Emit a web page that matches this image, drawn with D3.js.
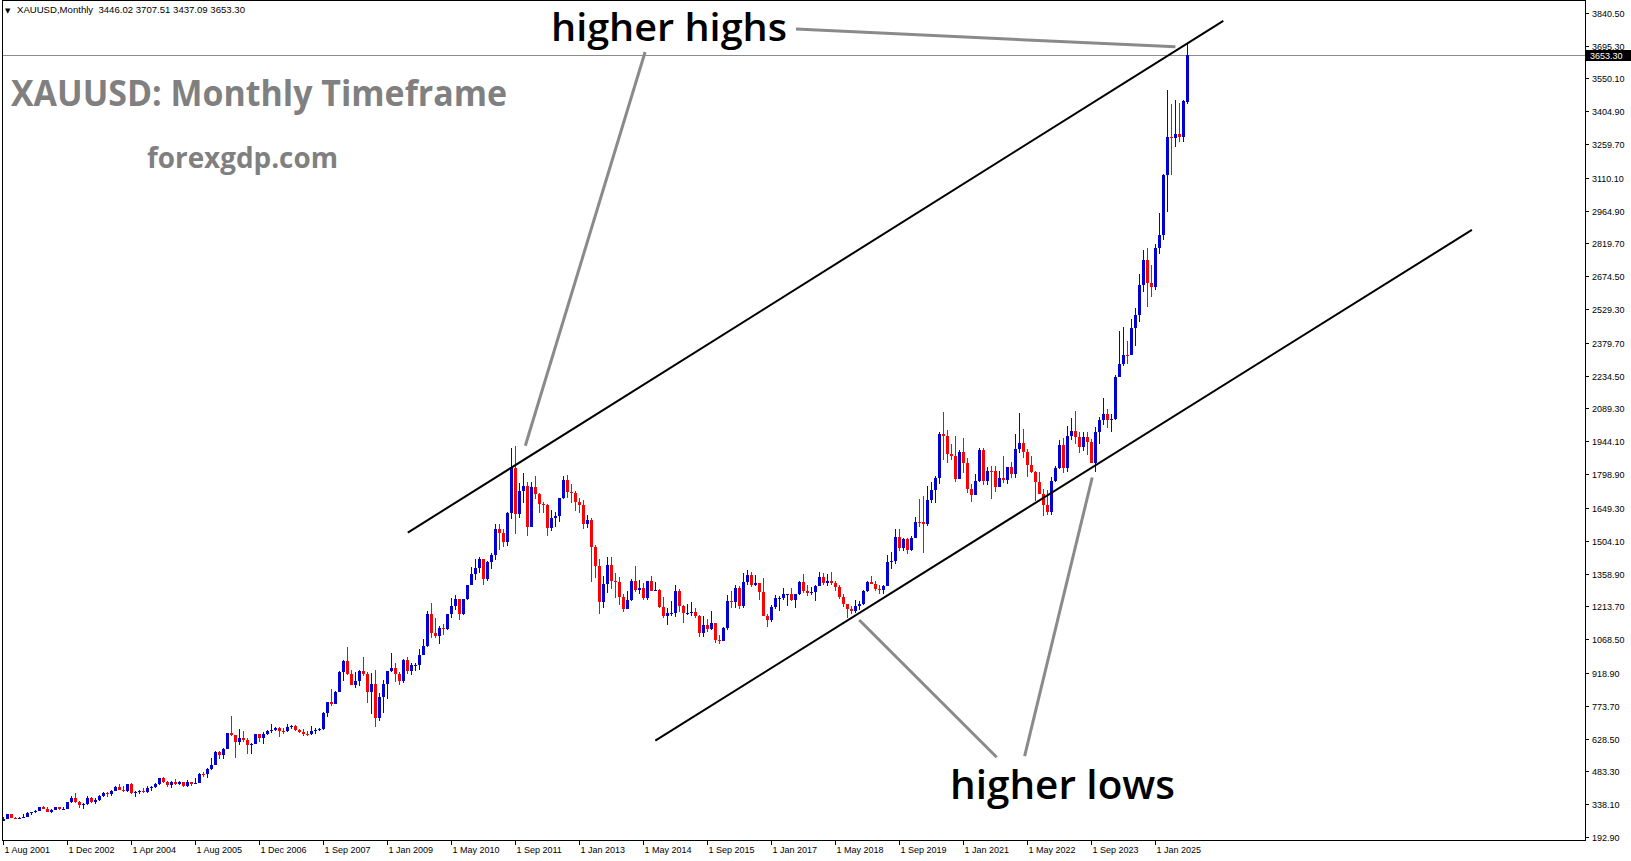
<!DOCTYPE html>
<html><head><meta charset="utf-8">
<script src="https://cdn.jsdelivr.net/npm/d3@7"></script>
<style>
html,body{margin:0;padding:0;background:#fff;overflow:hidden}
svg{display:block}
</style></head><body>
<svg id="chart" width="1631" height="861"></svg>
<script>
// ---------- DATA ----------
const headerSymbol = "XAUUSD,Monthly";
const headerQuote = ["3446.02", "3707.51", "3437.09", "3653.30"];
const lastPrice = 3653.30;

const timeLabels = ["1 Aug 2001","1 Dec 2002","1 Apr 2004","1 Aug 2005","1 Dec 2006","1 Sep 2007","1 Jan 2009","1 May 2010","1 Sep 2011","1 Jan 2013","1 May 2014","1 Sep 2015","1 Jan 2017","1 May 2018","1 Sep 2019","1 Jan 2021","1 May 2022","1 Sep 2023","1 Jan 2025"];
const timeLabelBars = [0,16,32,48,64,80,96,112,128,144,160,176,192,208,224,240,256,272,288];

const priceTicks = [3840.50,3695.30,3550.10,3404.90,3259.70,3110.10,2964.90,2819.70,2674.50,2529.30,2379.70,2234.50,2089.30,1944.10,1798.90,1649.30,1504.10,1358.90,1213.70,1068.50,918.90,773.70,628.50,483.30,338.10,192.90];

// monthly bars: [open, high, low, close]
const bars2001_2006 = [
 [265.6,280,265,273.2],[273.2,293.5,270.5,293.1],[293.1,293.2,276,278.9],[278.9,281,271.5,275.5],[275.5,281,271.5,278.9],
 [278.9,293,277.5,282.3],[282.3,305,281,296.9],[296.9,304.5,290,302.5],[302.5,311,299.5,308.3],[308.3,327.5,307,326.6],[326.6,330,315,318.5],[318.5,325,301.5,304.7],[304.7,316,300,312.8],[312.8,326,311.5,323.7],[323.7,325,311.5,316.9],[316.9,326.3,313,318.5],[318.5,349.5,316,347.2],
 [347.2,372.5,342,367.5],[367.5,388,344.5,347.5],[347.5,353,322.5,334.9],[334.9,341.5,319,338.7],[338.7,376,336.5,364.5],[364.5,372,343,346.5],[346.5,366,340,354.5],[354.5,379,350.5,375.6],[375.6,392,369,388.4],[388.4,394,369.5,384.5],[384.5,400,375,398.4],[398.4,417.5,395,416.3],
 [416.3,427.5,399,402.5],[402.5,419,390,396.5],[396.5,429.5,392.5,427.3],[427.3,432,384.5,388],[388,395,371.5,394],[394,403,381.5,395.5],[395.5,409,386,391.5],[391.5,418,386.5,408],[408,419,396,415.5],[415.5,432,410,428.9],[428.9,456,424,452.5],[452.5,456.5,430,438],
 [438,439,415.5,422.3],[422.3,439,411,435.5],[435.5,447.5,423.5,428.3],[428.3,439,422,435.8],[435.8,436.5,414,417],[417,444.5,413.5,435.5],[435.5,437,417,429.5],[429.5,454,429,433.5],[433.5,476,432.5,473.3],[473.3,479,459,469.5],[469.5,498,456,495.5],[495.5,541,488,513],
 [513,572,515.5,568.8],[568.8,574,537.5,556],[556,588,539,583],[583,654,582,653.5],[653.5,730,641,643.5],[643.5,645,542,614],[614,672,602,632.5],[632.5,663.5,612,623.5],[623.5,633,560,599],[599,607,560,604],[604,650,604,648],[648,648,612.5,632]
];
const bars2007a = [
 [632,657,603,650],[650,668,643,660],[660,691,655,668],[668,680,662,675],[675,678,637,664],[664,676,650,660],[660,692,658,678],[678,690,670,682],[682,690,660,668],[668,672,651,656],[656,672,640,650],[650,660,641,647],[647,684,645,664],[664,676,649,668],[668,676,660,673]
];
const bars2007_2012 = [
 [673,745,667,743],[743,790,723,789],[789,848,774,783],[783,838,780,834],
 [834,929,833,923],[923,976,885,972],[972,1033,911,916],[916,930,864,865],[865,925,851,885],[885,934,861,928],[928,988,907,912],[912,924,786,833],[833,920,737,871],[871,932,681,718],[718,829,705,814],[814,889,741,869],
 [869,928,802,927],[927,1006,921,942],[942,964,880,916],[916,924,865,883],[883,982,876,975],[975,989,915,926],[926,962,908,954],[954,964,928,955],[955,1025,933,1000],[1000,1070,1000,1040],[1040,1195,1033,1180],[1180,1227,1075,1096],
 [1096,1161,1074,1081],[1081,1128,1045,1118],[1118,1134,1086,1113],[1113,1180,1110,1180],[1180,1249,1163,1213],[1213,1265,1198,1244],[1244,1245,1155,1181],[1181,1248,1175,1248],[1248,1309,1243,1307],[1307,1388,1312,1357],[1357,1424,1331,1384],[1384,1432,1360,1421],
 [1421,1424,1308,1333],[1333,1413,1325,1411],[1411,1448,1381,1439],[1439,1576,1418,1556],[1556,1577,1462,1536],[1536,1556,1478,1500],[1500,1632,1480,1628],[1628,1913,1600,1826],[1826,1921,1534,1620],[1620,1761,1603,1722],[1722,1804,1670,1746],[1746,1764,1523,1565],
 [1565,1764,1563,1740],[1740,1791,1689,1710],[1710,1715,1627,1668],[1668,1677,1627,1664],[1664,1666,1527,1561],[1561,1641,1546,1604],[1604,1633,1564,1615],[1615,1695,1589,1692],[1692,1790,1690,1773],[1773,1796,1692,1719],[1719,1755,1672,1713],[1713,1723,1636,1675]
];
const bars2013_2018 = [
 [1675,1694,1626,1663],[1663,1684,1555,1578],[1578,1617,1562,1596],[1596,1605,1321,1476],[1476,1487,1338,1393],[1393,1424,1180,1234],[1234,1348,1208,1313],[1313,1434,1271,1395],[1395,1434,1292,1327],[1327,1361,1251,1323],[1323,1342,1221,1253],[1253,1267,1187,1202],
 [1202,1280,1200,1240],[1240,1336,1238,1326],[1326,1392,1277,1284],[1284,1331,1268,1296],[1296,1315,1240,1250],[1250,1326,1240,1327],[1327,1346,1284,1282],[1282,1323,1281,1287],[1287,1292,1206,1210],[1210,1256,1161,1171],[1171,1208,1131,1182],[1182,1239,1170,1184],
 [1184,1307,1167,1283],[1283,1289,1190,1213],[1213,1220,1142,1183],[1183,1224,1175,1183],[1183,1232,1170,1190],[1190,1205,1162,1172],[1172,1175,1077,1095],[1095,1170,1080,1133],[1133,1157,1098,1115],[1115,1191,1107,1142],[1142,1142,1053,1065],[1065,1088,1046,1061],
 [1061,1123,1062,1118],[1118,1263,1110,1238],[1238,1283,1208,1233],[1233,1306,1208,1293],[1293,1304,1200,1215],[1215,1362,1208,1322],[1322,1375,1310,1351],[1351,1367,1301,1309],[1309,1352,1302,1316],[1316,1317,1241,1277],[1277,1338,1171,1173],[1173,1180,1123,1152],
 [1152,1220,1146,1211],[1211,1264,1200,1249],[1249,1261,1194,1249],[1249,1296,1241,1268],[1268,1270,1214,1268],[1268,1296,1236,1242],[1242,1270,1205,1269],[1269,1326,1262,1322],[1322,1357,1271,1280],[1280,1306,1260,1271],[1271,1299,1264,1275],[1275,1307,1236,1303],
 [1303,1366,1302,1345],[1345,1362,1307,1318],[1318,1356,1303,1325],[1325,1366,1310,1315],[1315,1326,1282,1298],[1298,1309,1245,1253],[1253,1266,1211,1224],[1224,1224,1160,1201],[1201,1214,1180,1192],[1192,1243,1183,1215],[1215,1237,1196,1222],[1222,1284,1221,1282]
];
const bars2019_2025 = [
 [1282,1326,1276,1321],[1321,1347,1311,1313],[1313,1324,1281,1292],[1292,1310,1266,1284],[1284,1306,1266,1305],[1305,1439,1302,1409],[1409,1453,1381,1413],[1413,1555,1400,1520],[1520,1557,1459,1472],[1472,1518,1459,1513],[1513,1516,1445,1464],[1464,1524,1459,1517],
 [1517,1611,1517,1589],[1589,1689,1563,1585],[1585,1704,1451,1577],[1577,1748,1568,1686],[1686,1765,1670,1730],[1730,1789,1671,1781],[1781,1983,1757,1975],[1975,2075,1863,1967],[1967,1992,1849,1886],[1886,1933,1860,1879],[1879,1966,1764,1776],[1776,1907,1775,1898],
 [1898,1959,1802,1848],[1848,1871,1717,1734],[1734,1755,1677,1707],[1707,1798,1705,1769],[1769,1913,1766,1906],[1906,1916,1750,1770],[1770,1832,1751,1814],[1814,1834,1690,1813],[1813,1834,1721,1742],[1742,1814,1746,1783],[1783,1877,1758,1774],[1774,1831,1753,1829],
 [1829,1853,1780,1797],[1797,1974,1781,1909],[1909,2070,1890,1937],[1937,1998,1872,1897],[1897,1910,1787,1837],[1837,1879,1805,1807],[1807,1814,1681,1765],[1765,1808,1710,1711],[1711,1735,1615,1660],[1660,1730,1618,1633],[1633,1786,1617,1768],[1768,1833,1765,1824],
 [1824,1949,1823,1928],[1928,1959,1805,1827],[1827,2010,1810,1969],[1969,2049,1950,1990],[1990,2079,1932,1962],[1962,1983,1893,1919],[1919,1987,1902,1965],[1965,1987,1885,1940],[1940,1953,1846,1849],[1849,2009,1810,1983],[1983,2052,1931,2036],[2036,2135,2017,2063],
 [2063,2088,2002,2040],[2040,2066,1985,2044],[2044,2236,2039,2230],[2230,2432,2229,2286],[2286,2450,2277,2327],[2327,2387,2286,2326],[2326,2484,2353,2447],[2447,2532,2364,2503],[2503,2686,2472,2634],[2634,2790,2604,2744],[2744,2801,2537,2643],[2643,2726,2583,2625],
 [2625,2817,2615,2798],[2798,2956,2772,2858],[2858,3128,2833,3124],[3124,3500,2957,3289],[3290,3435,3121,3288],[3288,3452,3247,3303],[3303,3439,3268,3290],[3290,3454,3268,3448],[3446.02,3707.51,3437.09,3653.30]
];
const ohlc = [].concat(bars2001_2006, bars2007a, bars2007_2012, bars2013_2018, bars2019_2025);

// channel lines and pointers: [[bar, price], [bar, price]]
const upperChannel = [[101.08, 1539.9], [304.95, 3804.6]];
const lowerChannel = [[162.95, 619.5], [367.1, 2879.3]];
const pointerLines = [
  [[160.4, 3666.5], [130.45, 1924.4]],
  [[198.1, 3767.9], [292.98, 3689.5]],
  [[248.3, 545.6], [213.93, 1153.1]],
  [[255.28, 550.4], [272.18, 1783.7]]
];

// ---------- DRAW ----------
const svg = d3.select("#chart");
const W = 1631, H = 861;
const plotRight = 1585, plotBottom = 840;

const x = d3.scaleLinear().domain([0, 100]).range([3.5, 403.5]);
const y = d3.scaleLinear().domain([192.9, lastPrice]).range([837, 55]);

const UP = "#0000d8", DOWN = "#ff0000";
const uiFont = "'Liberation Sans', Arial, sans-serif";
const bigFont = "'Open Sans', sans-serif";

svg.append("rect").attr("width", W).attr("height", H).attr("fill", "#fff");

// bid line
svg.append("line")
  .attr("x1", 2).attr("x2", plotRight)
  .attr("y1", Math.round(y(lastPrice)) + 0.5).attr("y2", Math.round(y(lastPrice)) + 0.5)
  .attr("stroke", "#8c8c8c").attr("stroke-width", 1).attr("shape-rendering", "crispEdges");

// candles
const cg = svg.append("g").attr("shape-rendering", "crispEdges");
const candle = cg.selectAll("g").data(ohlc).join("g")
  .attr("fill", d => d[3] >= d[0] ? UP : DOWN);
candle.append("rect")
  .attr("x", (d, i) => Math.floor(x(i)))
  .attr("width", 1)
  .attr("y", d => Math.round(y(d[1])))
  .attr("height", d => Math.max(1, Math.round(y(d[2])) - Math.round(y(d[1]))));
candle.append("rect")
  .attr("x", (d, i) => Math.floor(x(i)) - 1)
  .attr("width", 3)
  .attr("y", d => Math.round(y(Math.max(d[0], d[3]))))
  .attr("height", d => Math.max(1, Math.round(y(Math.min(d[0], d[3]))) - Math.round(y(Math.max(d[0], d[3])))));

// channel lines
const lineGen = d3.line().x(d => x(d[0])).y(d => y(d[1]));
[upperChannel, lowerChannel].forEach(l => {
  svg.append("path").attr("d", lineGen(l)).attr("fill", "none")
    .attr("stroke", "#000").attr("stroke-width", 2);
});
pointerLines.forEach(l => {
  svg.append("path").attr("d", lineGen(l)).attr("fill", "none")
    .attr("stroke", "#8a8a8a").attr("stroke-width", 3);
});

// frame
svg.append("path")
  .attr("d", `M2.5,0.5 H${plotRight + 0.5} V${plotBottom + 0.5} H2.5 Z`)
  .attr("fill", "none").attr("stroke", "#000").attr("stroke-width", 1)
  .attr("shape-rendering", "crispEdges");

// price axis
const pa = svg.append("g").attr("font-family", uiFont).attr("font-size", 9).attr("fill", "#000");
priceTicks.forEach(v => {
  const yy = Math.round(y(v)) + 0.5;
  pa.append("line").attr("x1", plotRight).attr("x2", plotRight + 4).attr("y1", yy).attr("y2", yy)
    .attr("stroke", "#000").attr("shape-rendering", "crispEdges");
  pa.append("text").attr("x", plotRight + 7).attr("y", yy + 3.2).text(v.toFixed(2));
});
// current price box
const by = Math.round(y(lastPrice));
svg.append("rect").attr("x", plotRight + 1).attr("y", by - 5).attr("width", 45).attr("height", 11).attr("fill", "#000");
svg.append("text").attr("x", plotRight + 5).attr("y", by + 3.5)
  .attr("font-family", uiFont).attr("font-size", 9).attr("fill", "#fff").text(lastPrice.toFixed(2));

// time axis
const ta = svg.append("g").attr("font-family", uiFont).attr("font-size", 9).attr("fill", "#000");
timeLabels.forEach((t, k) => {
  const xx = Math.floor(x(timeLabelBars[k])) + 0.5;
  ta.append("line").attr("x1", xx).attr("x2", xx).attr("y1", plotBottom).attr("y2", plotBottom + 5)
    .attr("stroke", "#000").attr("shape-rendering", "crispEdges");
  ta.append("text").attr("x", xx + 1).attr("y", 852.5).text(t);
});

// header
svg.append("text").attr("x", 5).attr("y", 12.5).attr("font-family", "'DejaVu Sans', sans-serif")
  .attr("font-size", 7).attr("fill", "#000").text("▼");
svg.append("text").attr("x", 17).attr("y", 13.3).attr("font-family", uiFont).attr("font-size", 8.5)
  .attr("fill", "#000").attr("textLength", 228).attr("lengthAdjust", "spacingAndGlyphs")
  .attr("xml:space", "preserve")
  .text(headerSymbol + "  " + headerQuote.join(" "));

// annotations
function bigText(str, x0, base, size, w, fill, weight) {
  svg.append("text").attr("x", x0).attr("y", base).attr("font-family", bigFont)
    .attr("font-size", size).attr("font-weight", weight).attr("fill", fill)
    .attr("textLength", w).attr("lengthAdjust", "spacingAndGlyphs").text(str);
}
bigText("XAUUSD: Monthly Timeframe", 11, 106, 35, 496, "#808080", 700);
bigText("forexgdp.com", 147, 168, 29, 191, "#808080", 700);
bigText("higher highs", 551, 40.5, 37.5, 236, "#000", 600);
bigText("higher lows", 950, 799, 39, 225, "#000", 600);
</script>
</body></html>
